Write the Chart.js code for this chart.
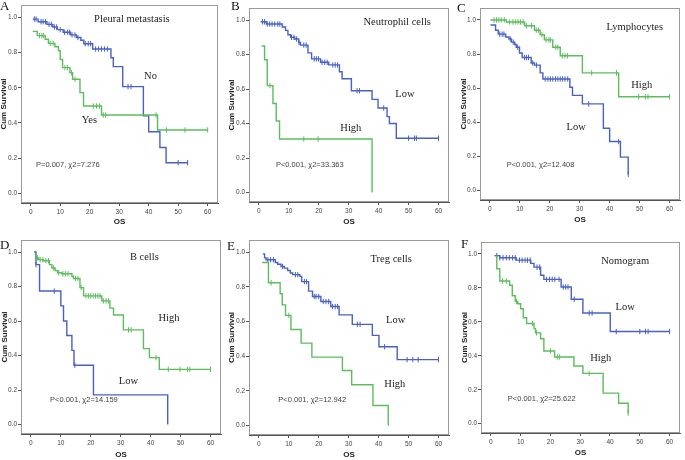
<!DOCTYPE html>
<html>
<head>
<meta charset="utf-8">
<script src="https://cdn.jsdelivr.net/npm/chart.js@4.4.0/dist/chart.umd.min.js"></script>
<style>
  body { margin: 0; background: #fff; }
  #wrap { position: relative; width: 685px; height: 460px; overflow: hidden; }
  #wrap canvas { position: absolute; }
</style>
</head>
<body>
<div id="wrap"></div>
<script>
// ---- data: step times (t), survival after each step (s), censored times (c)
const X_TICKS = [0, 10, 20, 30, 40, 50, 60];
const Y_TICKS = [0, 0.2, 0.4, 0.6, 0.8, 1.0];

// A  Pleural metastasis
const A_no_t = [0.7, 2.5, 5.5, 7.5, 9, 11, 13.5, 15.5, 17, 18, 21, 27.2, 28, 31.2, 38.2, 40, 43.8, 45.9];
const A_no_s = [0.99, 0.975, 0.96, 0.945, 0.93, 0.915, 0.9, 0.885, 0.87, 0.85, 0.82, 0.77, 0.72, 0.606, 0.44, 0.35, 0.26, 0.174];
const A_no_c = [1.2, 1.8, 3.5, 4.2, 5, 6.2, 7, 8, 8.8, 10, 11.5, 12.5, 13.2, 14, 15, 16, 18.5, 19.5, 20.3, 22, 23, 24, 25, 26, 33, 34, 50, 53.2];
const A_yes_t = [0.7, 2.2, 4.9, 6, 8.2, 9.4, 10, 10.8, 13.3, 14.2, 16.7, 17.9, 24, 43];
const A_yes_s = [0.92, 0.896, 0.875, 0.852, 0.833, 0.81, 0.76, 0.714, 0.686, 0.648, 0.572, 0.496, 0.445, 0.36];
const A_yes_c = [3, 3.8, 4.4, 6.6, 7.6, 11.6, 12.4, 13.8, 15, 21.2, 22.3, 23.3, 24.6, 25.4, 42.5, 46, 52.3, 60];

// B  Neutrophil cells
const B_low_t = [0.6, 2.5, 7.8, 8.9, 9.7, 10.6, 12, 13.3, 13.9, 16.4, 17.6, 20.6, 23.3, 26.9, 27.8, 30.9, 37.8, 39.8, 42.8, 43.6, 45.9];
const B_low_s = [0.99, 0.977, 0.96, 0.94, 0.915, 0.9, 0.89, 0.87, 0.855, 0.81, 0.775, 0.755, 0.74, 0.7, 0.66, 0.59, 0.54, 0.49, 0.44, 0.4, 0.315];
const B_low_c = [1.2, 1.9, 2.8, 3.6, 4.4, 5.3, 6.3, 7, 10.9, 11.7, 12.6, 13.4, 15, 15.8, 18.5, 19.2, 19.9, 21.1, 22, 22.8, 24.7, 25.5, 26.3, 32.8, 33.6, 41.7, 50, 52, 52.6, 60];
const B_high_t = [0.9, 1.9, 2.8, 4.7, 5.8, 6.9, 37.8];
const B_high_s = [0.85, 0.77, 0.62, 0.516, 0.415, 0.31, 0.0];
const B_high_c = [3.7, 15, 19.8];

// C  Lymphocytes
const C_high_t = [0.2, 5.5, 11.6, 14.9, 16.8, 18.2, 21, 23.5, 30.9, 43];
const C_high_s = [1.0, 0.988, 0.966, 0.94, 0.913, 0.883, 0.84, 0.79, 0.69, 0.55];
const C_high_c = [1.4, 2.2, 3, 3.8, 4.8, 6.6, 7.7, 8.5, 9.4, 10.2, 11.1, 12.2, 13.9, 15.5, 16.3, 17.4, 18.8, 19.7, 20.2, 22, 22.7, 24.2, 25.1, 25.9, 34, 42.3, 49.7, 51.9, 52.8, 60];
const C_low_t = [0.2, 1.9, 2.8, 5.3, 6.4, 7.2, 8.3, 8.8, 9.9, 10.8, 13.8, 14.9, 16.8, 17.7, 26.7, 27.6, 30.9, 37.9, 40, 43.6, 46.2];
const C_low_s = [0.97, 0.94, 0.917, 0.9, 0.888, 0.87, 0.856, 0.84, 0.806, 0.78, 0.748, 0.735, 0.69, 0.654, 0.606, 0.558, 0.508, 0.365, 0.288, 0.196, 0.096];
const C_low_c = [3.3, 4.1, 4.7, 6.8, 7.8, 9.3, 11.6, 12.2, 12.9, 14.3, 15.6, 18.5, 19.4, 20.2, 21, 21.9, 22.7, 23.5, 24.3, 25.1, 26, 33, 43, 46.2];

// D  B cells
const D_low_t = [1.1, 1.7, 2.9, 10, 10.9, 12, 13.7, 14.4, 20.9, 45.7];
const D_low_s = [1.0, 0.927, 0.774, 0.688, 0.6, 0.516, 0.43, 0.344, 0.172, 0.0];
const D_low_c = [1.7, 7.8, 14.7];
const D_high_t = [1.3, 1.8, 2.6, 4.2, 6.2, 7, 8.1, 8.9, 10.3, 13.7, 14.2, 16.4, 17.6, 23.7, 26.4, 27.6, 30.9, 37.6, 39.6, 42.9];
const D_high_s = [0.985, 0.966, 0.956, 0.95, 0.927, 0.908, 0.893, 0.88, 0.874, 0.86, 0.847, 0.794, 0.746, 0.717, 0.675, 0.635, 0.549, 0.44, 0.388, 0.32];
const D_high_c = [2.2, 3.1, 4, 5, 5.9, 7.6, 9.3, 10.7, 11.5, 12.4, 14.9, 15.7, 16.8, 18.4, 19.2, 20, 20.8, 21.6, 22.4, 23.1, 24.2, 25.1, 25.9, 32.6, 33.5, 41.8, 45.9, 49.8, 52.3, 53.1, 60];

// E  Treg cells
const E_low_t = [1.3, 1.9, 2.4, 5.5, 6.3, 7.4, 8.5, 9.6, 10.5, 11.3, 13.7, 14.3, 16.6, 17.9, 20.7, 24, 26.8, 31.2, 37.9, 40.1, 46.2];
const E_low_s = [0.99, 0.967, 0.956, 0.94, 0.93, 0.917, 0.908, 0.894, 0.88, 0.87, 0.86, 0.83, 0.775, 0.744, 0.715, 0.686, 0.638, 0.583, 0.52, 0.454, 0.38];
const E_low_c = [3, 3.9, 4.9, 7.9, 12.2, 13, 15.2, 15.9, 18.5, 19.1, 20, 21.5, 22.4, 23.3, 24.6, 25.5, 26.3, 32.9, 33.8, 42, 49.5, 51.4, 53.2, 60];
const E_high_t = [1.1, 3.2, 7.1, 7.8, 8.9, 10.7, 14.1, 17.7, 27.9, 31, 38.1, 43.2];
const E_high_s = [0.94, 0.823, 0.76, 0.696, 0.635, 0.554, 0.475, 0.394, 0.317, 0.235, 0.115, 0.0];
const E_high_c = [4.1, 10];

// F  Nomogram
const F_low_t = [1.2, 3, 8.5, 13.4, 14.5, 16.7, 17.8, 23.6, 27, 30.9, 40.1];
const F_low_s = [0.99, 0.977, 0.963, 0.944, 0.922, 0.874, 0.85, 0.805, 0.733, 0.652, 0.543];
const F_low_c = [2, 3, 4.1, 5.2, 6.2, 7.3, 8.2, 9.6, 10.5, 11.5, 12.3, 13.2, 15.5, 16.4, 18.7, 19.7, 20.6, 21.5, 22.9, 24.3, 25.1, 25.9, 28, 33, 34, 42.1, 50, 51.9, 52.8, 60];
const F_high_t = [1.6, 2, 3, 6.3, 7.2, 8.2, 9, 10, 10.9, 12, 14.5, 15, 16.7, 17.8, 21.4, 27.9, 30.9, 37.7, 42.9, 46.1];
const F_high_s = [0.986, 0.912, 0.84, 0.815, 0.753, 0.72, 0.706, 0.677, 0.624, 0.59, 0.56, 0.535, 0.5, 0.428, 0.393, 0.34, 0.296, 0.18, 0.12, 0.062];
const F_high_c = [3.9, 5.2, 8.6, 14, 15.3, 20, 22.3, 23.1, 33, 46.1];

const BLUE = '#4861c4';
const GREEN = '#5cbd5c';

// panel layout (absolute page pixels) + texts placed in data units
const panels = [
  { letter: 'A', letterAt: [0, 9.5], box: [0, 0, 224, 230], area: [21, 5, 218, 203], yTitleX: 4, xTitleY: 222,
    curves: [[A_yes_t, A_yes_s, A_yes_c, GREEN], [A_no_t, A_no_s, A_no_c, BLUE]],
    title: ['Pleural metastasis', 34.3, 0.99], labels: [['No', 40.6, 0.666], ['Yes', 19.9, 0.414]],
    p: ['P=0.007, \u03c72=7.276', 1.8, 0.164] },
  { letter: 'B', letterAt: [231, 10], box: [226, 0, 228, 230], area: [249, 8, 450, 202], yTitleX: 232, xTitleY: 222,
    curves: [[B_high_t, B_high_s, B_high_c, GREEN], [B_low_t, B_low_s, B_low_c, BLUE]],
    title: ['Neutrophil cells', 46.2, 0.99], labels: [['Low', 48.8, 0.57], ['High', 30.7, 0.375]],
    p: ['P<0.001, \u03c72=33.363', 5.7, 0.16] },
  { letter: 'C', letterAt: [457, 12], box: [456, 0, 229, 230], area: [480, 8, 683, 200], yTitleX: 464, xTitleY: 220,
    curves: [[C_low_t, C_low_s, C_low_c, BLUE], [C_high_t, C_high_s, C_high_c, GREEN]],
    title: ['Lymphocytes', 48.4, 0.96], labels: [['High', 50.7, 0.62], ['Low', 28.8, 0.37]],
    p: ['P<0.001, \u03c72=12.408', 5.6, 0.15] },
  { letter: 'D', letterAt: [0, 249], box: [0, 232, 226, 228], area: [21, 240, 222, 434], yTitleX: 4.5, xTitleY: 455,
    curves: [[D_high_t, D_high_s, D_high_c, GREEN], [D_low_t, D_low_s, D_low_c, BLUE]],
    title: ['B cells', 37.9, 0.97], labels: [['High', 46.1, 0.617], ['Low', 32.6, 0.25]],
    p: ['P<0.001, \u03c72=14.159', 6.4, 0.14] },
  { letter: 'E', letterAt: [227, 250], box: [226, 232, 228, 228], area: [249, 240, 450, 435], yTitleX: 232, xTitleY: 455,
    curves: [[E_high_t, E_high_s, E_high_c, GREEN], [E_low_t, E_low_s, E_low_c, BLUE]],
    title: ['Treg cells', 44.2, 0.958], labels: [['Low', 45.7, 0.606], ['High', 45.4, 0.236]],
    p: ['P<0.001, \u03c72=12.942', 6.5, 0.15] },
  { letter: 'F', letterAt: [461, 248], box: [456, 232, 229, 228], area: [481, 242, 683, 433], yTitleX: 464.5, xTitleY: 453,
    curves: [[F_high_t, F_high_s, F_high_c, GREEN], [F_low_t, F_low_s, F_low_c, BLUE]],
    title: ['Nomogram', 45.1, 0.957], labels: [['Low', 45.1, 0.683], ['High', 36.9, 0.385]],
    p: ['P<0.001, \u03c72=25.622', 5.7, 0.146] }
];

function stepAt(t, s, x) {
  let v = s[0];
  for (let i = 0; i < t.length; i++) if (t[i] <= x) v = s[i];
  return v;
}

function buildDatasets(curves) {
  const sets = [];
  curves.forEach(([t, s, c, color]) => {
    const pts = t.map((x, i) => ({ x: x, y: s[i] }));
    const end = Math.max(...c);
    if (end > t[t.length - 1]) pts.push({ x: end, y: s[s.length - 1] });
    sets.push({ data: pts, stepped: 'before', borderColor: color, borderWidth: 1.4, pointRadius: 0, fill: false });
    sets.push({ data: c.map(x => ({ x: x, y: stepAt(t, s, x) })), showLine: false, borderColor: color,
      pointStyle: 'line', rotation: 90, pointRadius: 2.7, pointBorderWidth: 1, pointBorderColor: color });
  });
  return sets;
}

// frame + text plugin, one per panel
function panelPlugin(p) {
  return {
    id: 'panelText' + p.letter,
    beforeDatasetsDraw(chart) {
      const { ctx, chartArea: a } = chart;
      ctx.save();
      ctx.strokeStyle = '#9a9a9a';
      ctx.lineWidth = 1;
      ctx.strokeRect(a.left + 0.5, a.top + 0.5, a.width - 1, a.height - 1);
      ctx.restore();
    },
    afterDraw(chart) {
      const { ctx, scales: { x, y } } = chart;
      ctx.save();
      ctx.fillStyle = '#222';
      ctx.textBaseline = 'middle';
      ctx.font = '10.5px "Liberation Serif", "DejaVu Serif", serif';
      ctx.textAlign = 'center';
      ctx.fillText(p.title[0], x.getPixelForValue(p.title[1]), y.getPixelForValue(p.title[2]));
      p.labels.forEach(([txt, lx, ly]) => ctx.fillText(txt, x.getPixelForValue(lx), y.getPixelForValue(ly)));
      ctx.textAlign = 'left';
      ctx.fillStyle = '#444';
      ctx.font = '7.5px "Liberation Sans", Arial, sans-serif';
      ctx.fillText(p.p[0], x.getPixelForValue(p.p[1]), y.getPixelForValue(p.p[2]));
      // panel letter
      ctx.fillStyle = '#111';
      ctx.textBaseline = 'alphabetic';
      ctx.font = '13px "Liberation Serif", "DejaVu Serif", serif';
      ctx.fillText(p.letter, p.letterAt[0] - p.box[0], p.letterAt[1] - p.box[1]);
      ctx.restore();
    }
  };
}

const wrap = document.getElementById('wrap');
const tickFont = { family: '"Liberation Sans", Arial, sans-serif', size: 6.5 };
const titleFont = { family: '"Liberation Sans", Arial, sans-serif', size: 8, weight: 'bold' };

panels.forEach(p => {
  const [bl, bt, bw, bh] = p.box;
  const [al, at, ar, ab] = p.area;
  const cv = document.createElement('canvas');
  cv.width = bw; cv.height = bh;
  cv.style.left = bl + 'px'; cv.style.top = bt + 'px';
  cv.style.width = bw + 'px'; cv.style.height = bh + 'px';
  wrap.appendChild(cv);

  const yW = al - bl;
  const xH = bt + bh - ab;
  const lh = titleFont.size * 1.2;

  new Chart(cv.getContext('2d'), {
    type: 'line',
    data: { datasets: buildDatasets(p.curves) },
    options: {
      responsive: false,
      animation: false,
      events: [],
      layout: { padding: { left: 0, top: at - bt, right: bl + bw - ar, bottom: 0 } },
      plugins: { legend: { display: false }, tooltip: { enabled: false } },
      scales: {
        x: {
          type: 'linear', min: -3.3, max: 63.5,
          afterBuildTicks: s => { s.ticks = X_TICKS.map(v => ({ value: v })); },
          afterFit: s => { s.height = xH; },
          ticks: { font: tickFont, color: '#444', padding: 2, maxRotation: 0 },
          grid: { drawOnChartArea: false, drawTicks: true, tickLength: 3, color: '#555' },
          border: { display: true, color: '#555', width: 1 },
          title: { display: true, text: 'OS', font: titleFont, color: '#222',
                   padding: { top: 0, bottom: (bt + bh - p.xTitleY) - lh / 2 } }
        },
        y: {
          type: 'linear', min: -0.055, max: 1.07,
          afterBuildTicks: s => { s.ticks = Y_TICKS.map(v => ({ value: v })); },
          afterFit: s => { s.width = yW; },
          ticks: { font: tickFont, color: '#444', padding: 1, callback: v => v.toFixed(1) },
          grid: { drawOnChartArea: false, drawTicks: true, tickLength: 3, color: '#555' },
          border: { display: true, color: '#555', width: 1 },
          title: { display: true, text: 'Cum Survival', font: titleFont, color: '#222',
                   padding: { top: (p.yTitleX - bl) - lh / 2, bottom: 0 } }
        }
      }
    },
    plugins: [panelPlugin(p)]
  });
});
</script>
</body>
</html>
